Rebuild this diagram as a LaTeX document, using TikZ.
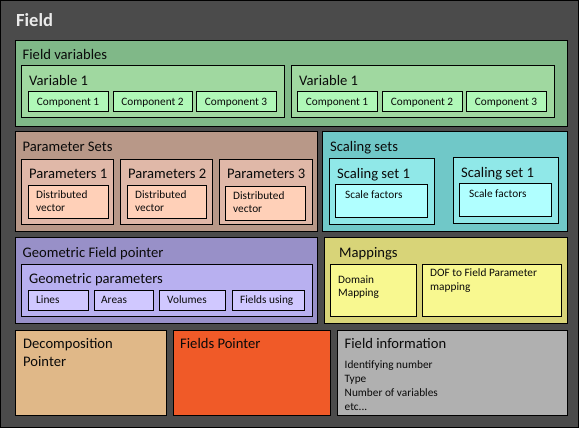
\documentclass[tikz,border=0pt]{standalone}
\usepackage{fontspec}
\setmainfont{Carlito}
\definecolor{bgdark}{HTML}{4B4B4B}
\definecolor{fvA}{HTML}{80B888}
\definecolor{fvB}{HTML}{A0D8A0}
\definecolor{fvC}{HTML}{B0F8B8}
\definecolor{psA}{HTML}{B89888}
\definecolor{psB}{HTML}{E0B8A8}
\definecolor{psC}{HTML}{FFD0B8}
\definecolor{ssA}{HTML}{70C8C8}
\definecolor{ssB}{HTML}{90E8E8}
\definecolor{ssC}{HTML}{B0FFFF}
\definecolor{gfA}{HTML}{9890C8}
\definecolor{gfB}{HTML}{B8B0F0}
\definecolor{gfC}{HTML}{D0C8FF}
\definecolor{mpA}{HTML}{D8D478}
\definecolor{mpB}{HTML}{F8F890}
\definecolor{dpA}{HTML}{E0B888}
\definecolor{fpA}{HTML}{F05A28}
\definecolor{fiA}{HTML}{B0B0B0}
\definecolor{txt}{HTML}{0A0A0A}
\newcommand{\bx}[6]{\node[bx, fill=#6, anchor=north west, minimum width=#4-#2, minimum height=#5-#3] (#1) at (#2,#3) {};}
\tikzset{
  bx/.style={draw=black, line width=1pt, inner sep=0pt, outer sep=0pt},
  big/.style={anchor=base west, inner sep=0pt, text=txt, font=\fontsize{14.6}{17}\selectfont},
  small/.style={anchor=base west, inner sep=0pt, text=txt, font=\fontsize{11.3}{13}\selectfont},
  smallc/.style={anchor=base, inner sep=0pt, text=txt, font=\fontsize{11.3}{13}\selectfont},
}
\begin{document}
\begin{tikzpicture}[x=1pt,y=-1pt]
\useasboundingbox (0,0) rectangle (579,428);
\bx{outer}{0.5}{0.5}{578.5}{427.5}{bgdark}
\node[anchor=base west, inner sep=0pt, text=white!92!black, font=\fontsize{18.5}{22}\selectfont\bfseries] (tfield) at (16,26.7) {Field};
% Field variables
\bx{fv}{15}{41}{567}{127}{fvA}
\node[big] (tfv) at (22.5,60) {Field variables};
\bx{v1}{21}{66}{284}{118}{fvB}
\bx{v2}{291}{66}{554}{118}{fvB}
\node[big] (tv1) at (29,86) {Variable 1};
\node[big] (tv2) at (299,85) {Variable 1};
\bx{c11}{28}{92}{108}{112}{fvC}
\bx{c12}{113}{92}{192}{112}{fvC}
\bx{c13}{196}{92}{276}{112}{fvC}
\bx{c21}{297}{92}{377}{112}{fvC}
\bx{c22}{382}{92}{462}{112}{fvC}
\bx{c23}{466}{92}{546}{112}{fvC}
\node[smallc] (tc11) at (68,105.5) {Component 1};
\node[smallc] (tc12) at (152.5,105.5) {Component 2};
\node[smallc] (tc13) at (236,105.5) {Component 3};
\node[smallc] (tc21) at (337,105.5) {Component 1};
\node[smallc] (tc22) at (422,105.5) {Component 2};
\node[smallc] (tc23) at (506,105.5) {Component 3};
% Parameter sets
\bx{ps}{15}{132}{317}{231}{psA}
\node[big] (tps) at (22.5,151.5) {Parameter Sets};
\bx{p1}{21}{159}{113}{224}{psB}
\bx{p2}{120}{159}{212}{224}{psB}
\bx{p3}{219}{159}{312}{224}{psB}
\node[big] (tp1) at (29,178) {Parameters 1};
\node[big] (tp2) at (128,178) {Parameters 2};
\node[big] (tp3) at (227,178) {Parameters 3};
\bx{d1}{28}{185}{108}{218}{psC}
\bx{d2}{127}{185}{206}{218}{psC}
\bx{d3}{225}{186}{305}{220}{psC}
\node[small] (td1a) at (36,198) {Distributed};
\node[small] (td1b) at (36,211) {vector};
\node[small] (td2a) at (135,198) {Distributed};
\node[small] (td2b) at (135,211) {vector};
\node[small] (td3a) at (233,199) {Distributed};
\node[small] (td3b) at (233,212.5) {vector};
% Scaling sets
\bx{ss}{322}{132}{567}{231}{ssA}
\node[big] (tss) at (330,151) {Scaling sets};
\bx{s1}{329}{158}{434}{224}{ssB}
\bx{s2}{453}{157}{558}{223}{ssB}
\node[big] (ts1) at (337,178) {Scaling set 1};
\node[big] (ts2) at (461,177) {Scaling set 1};
\bx{sf1}{335}{184}{427}{217}{ssC}
\bx{sf2}{459}{183}{551}{216}{ssC}
\node[small] (tsf1) at (345,198) {Scale factors};
\node[small] (tsf2) at (469,197) {Scale factors};
% Geometric field pointer
\bx{gf}{15}{237}{317}{323}{gfA}
\node[big] (tgf) at (22.5,257) {Geometric Field pointer};
\bx{gp}{21}{264}{312}{316}{gfB}
\node[big] (tgp) at (29,283) {Geometric parameters};
\bx{gl}{28}{290}{88}{310}{gfC}
\bx{ga}{94}{290}{153}{310}{gfC}
\bx{gv}{159}{290}{225}{310}{gfC}
\bx{gu}{232}{290}{304}{310}{gfC}
\node[small] (tgl) at (36,303) {Lines};
\node[small] (tga) at (101,303) {Areas};
\node[small] (tgv) at (167,303) {Volumes};
\node[small] (tgu) at (240,303) {Fields using};
% Mappings
\bx{mp}{324}{237}{567}{323}{mpA}
\node[big] (tmp) at (339,257) {Mappings};
\bx{dm}{330}{264}{416}{316}{mpB}
\bx{dof}{422}{264}{561}{316}{mpB}
\node[small] (tdma) at (338,283) {Domain};
\node[small] (tdmb) at (338,296) {Mapping};
\node[small] (tdofa) at (430,276) {DOF to Field Parameter};
\node[small] (tdofb) at (430,290) {mapping};
% Bottom row
\bx{dp}{15}{330}{166}{415}{dpA}
\bx{fp}{173}{330}{330}{415}{fpA}
\bx{fi}{337}{330}{567}{415}{fiA}
\node[big] (tdpa) at (23,348) {Decomposition};
\node[big] (tdpb) at (23,366) {Pointer};
\node[big] (tfp) at (180,348) {Fields Pointer};
\node[big] (tfi) at (344.5,348) {Field information};
\node[small] (tfi1) at (344.5,368) {Identifying number};
\node[small] (tfi2) at (344.5,382) {Type};
\node[small] (tfi3) at (344.5,396) {Number of variables};
\node[small] (tfi4) at (344.5,410) {etc...};
\end{tikzpicture}
\end{document}
